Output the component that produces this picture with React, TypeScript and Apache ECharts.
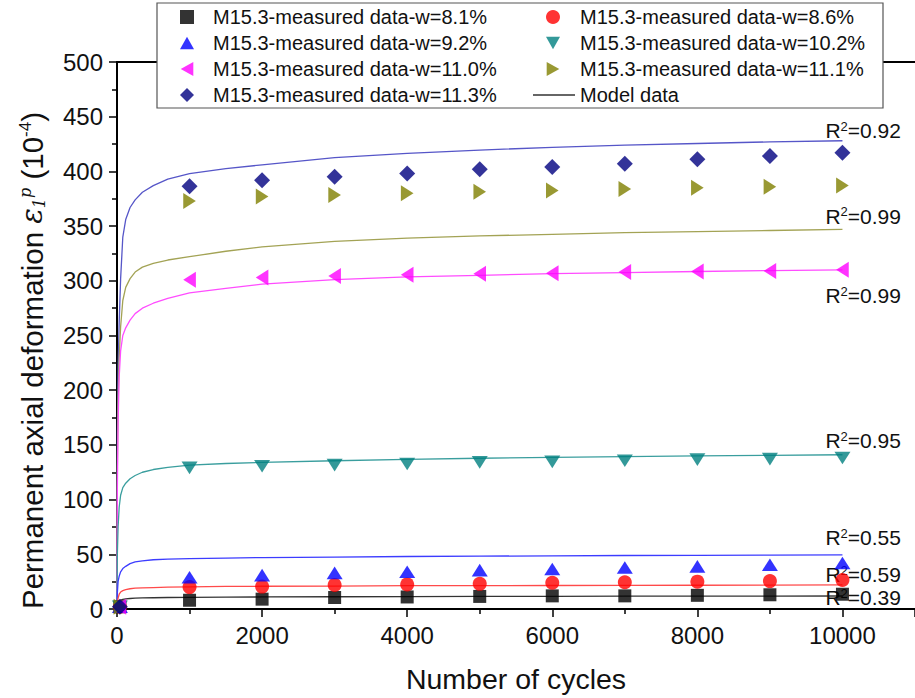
import React, { useEffect, useRef } from "react";
import * as echarts from "echarts";

// Measured data (Number of cycles)
const measuredN = [40, 1000, 2000, 3000, 4000, 5000, 6000, 7000, 8000, 9000, 10000];
const w81 = [2, 8, 9, 10.5, 11, 11.5, 12, 12, 12.5, 13, 13.5];
const w86 = [2, 20, 20.5, 22, 22.5, 23, 24, 24.5, 25, 25.5, 26.5];
const w92 = [2, 29, 31, 33, 34, 35.5, 36.5, 38, 39, 40.5, 42];
const w102 = [2, 129, 130.5, 131.5, 132.5, 134, 134.5, 135.5, 136.5, 137, 138];
const w110 = [2, 301, 303, 304.5, 305.5, 306.5, 307, 308, 308.5, 309, 310];
const w111 = [2, 373, 377, 378.5, 380, 381.5, 382.5, 384, 385, 386, 387];
const w113 = [2, 386.5, 392, 395, 398, 402, 404, 407, 411, 414, 417];

// Model (fitted) curves
const modelN = [0, 5, 15, 30, 50, 80, 120, 180, 250, 350, 500, 700, 1000, 1500, 2000, 3000, 4000, 5000, 6000, 7000, 8000, 9000, 10000];
const m113 = [0, 160, 220, 262, 302, 340, 356, 367, 374, 381, 387, 393, 398, 402.5, 406, 412.5, 416.5, 419.5, 422, 424, 425.5, 427, 428];
const m111 = [0, 130, 190, 230, 258, 282, 294, 302, 308, 312.5, 316, 319, 322, 327, 331, 336, 339, 341, 342.5, 344, 345, 346, 347];
const m110 = [0, 110, 170, 212, 236, 250, 257, 264, 270, 275, 279.5, 284, 289, 293, 297, 301, 303.5, 305, 306.5, 307.5, 308.5, 309.3, 310];
const m102 = [0, 50, 75, 93, 104, 111, 115, 119, 122, 125, 127.5, 129.5, 131.5, 133, 134, 135.5, 136.8, 137.8, 138.6, 139.3, 139.9, 140.5, 141];
const m92 = [0, 15, 25, 30, 34, 37, 39, 41.5, 43, 44, 45, 45.5, 46, 46.5, 47, 47.5, 48, 48.3, 48.6, 48.9, 49.1, 49.3, 49.5];
const m86 = [0, 6, 10, 13.5, 15.5, 16.8, 17.8, 18.5, 19, 19.3, 19.6, 20, 20.3, 20.6, 20.8, 21, 21.3, 21.4, 21.5, 21.6, 21.7, 21.8, 22];
const m81 = [0, 3, 5, 7, 8.2, 8.8, 9.2, 9.6, 9.9, 10.1, 10.3, 10.5, 10.7, 10.9, 11, 11.2, 11.4, 11.5, 11.6, 11.7, 11.8, 11.85, 11.9];

const r2Labels = ["0.92", "0.99", "0.99", "0.95", "0.55", "0.59", "0.39"];

const FONT = "Liberation Sans, Arial, sans-serif";

const TRI_UP = "path://M5,0 L10,9 L0,9 Z";
const TRI_DOWN = "path://M0,0 L10,0 L5,9 Z";
const TRI_LEFT = "path://M9,0 L9,10 L0,5 Z";
const TRI_RIGHT = "path://M0,0 L9,5 L0,10 Z";

export default function App() {
  const ref = useRef<HTMLDivElement>(null);

  useEffect(() => {
    if (!ref.current) return;
    const chart = echarts.init(ref.current, undefined, { renderer: "svg" });

    const pair = (xs: number[], ys: number[]) => xs.map((x, i) => [x, ys[i]]);

    const scatter = (name: string, ys: number[], color: string, symbol: string, size: number | number[]) => ({
      name,
      type: "scatter",
      data: pair(measuredN, ys),
      symbol,
      symbolSize: size,
      symbolKeepAspect: true,
      itemStyle: { color },
      z: 3,
    });

    const r2Rich = {
      r: { fontSize: 21, fontFamily: FONT, color: "#111", lineHeight: 22 },
      s: { fontSize: 13, fontFamily: FONT, color: "#111", verticalAlign: "top", lineHeight: 22 },
    };

    const model = (name: string, ys: number[], color: string, r2: string, dy: number) => ({
      name,
      type: "line",
      data: pair(modelN, ys),
      symbol: "none",
      smooth: false,
      lineStyle: { color, width: 1.3 },
      itemStyle: { color },
      z: 2,
      endLabel: {
        show: true,
        formatter: () => `{r|R}{s|2}{r|=${r2}}`,
        rich: r2Rich,
        distance: 0,
        offset: [-17, dy],
        align: "left",
      },
    });

    const legendText = { fontSize: 20, fontFamily: FONT, color: "#111", lineHeight: 20 };

    chart.setOption({
      animation: false,
      backgroundColor: "#fff",
      grid: { left: 117, right: 0, top: 62, bottom: 89, containLabel: false },
      legend: [
        {
          orient: "vertical",
          left: 180,
          top: 7,
          padding: 0,
          itemWidth: 14,
          itemHeight: 14,
          itemGap: 6,
          textStyle: { ...legendText, padding: [0, 0, 0, 14] },
          data: [
            { name: "M15.3-measured data-w=8.1%", icon: "rect" },
            { name: "M15.3-measured data-w=9.2%", icon: TRI_UP },
            { name: "M15.3-measured data-w=11.0%", icon: TRI_LEFT },
            { name: "M15.3-measured data-w=11.3%", icon: "diamond" },
          ],
        },
        {
          orient: "vertical",
          left: 546,
          top: 7,
          padding: 0,
          itemWidth: 14,
          itemHeight: 14,
          itemGap: 6,
          textStyle: { ...legendText, padding: [0, 0, 0, 15] },
          data: [
            { name: "M15.3-measured data-w=8.6%", icon: "circle" },
            { name: "M15.3-measured data-w=10.2%", icon: TRI_DOWN },
            { name: "M15.3-measured data-w=11.1%", icon: TRI_RIGHT },
          ],
        },
        {
          orient: "vertical",
          left: 533,
          top: 85,
          padding: 0,
          itemWidth: 42,
          itemHeight: 1.5,
          textStyle: legendText,
          data: [{ name: "Model data", icon: "rect" }],
        },
      ],
      graphic: [
        {
          type: "rect",
          z: 3,
          shape: { x: 157, y: 3, width: 726, height: 105 },
          style: { fill: "#fff", stroke: "#555", lineWidth: 1.2 },
        },
      ],
      xAxis: [
        {
          type: "value",
          min: 0,
          max: 11000,
          interval: 2000,
          name: "Number of cycles",
          nameLocation: "middle",
          nameGap: 55,
          nameTextStyle: { fontSize: 28.5, fontFamily: FONT, color: "#111" },
          axisLine: { show: true, onZero: false, lineStyle: { color: "#000", width: 2 } },
          axisTick: { show: true, length: 8, lineStyle: { color: "#000", width: 1.5 } },
          minorTick: { show: true, splitNumber: 2, length: 5, lineStyle: { color: "#000", width: 1.5 } },
          axisLabel: {
            fontSize: 24,
            fontFamily: FONT,
            color: "#111",
            margin: 14,
            showMaxLabel: false,
            formatter: (v: number) => String(v),
          },
          splitLine: { show: false },
        },
        {
          type: "value",
          position: "top",
          min: 0,
          max: 11000,
          axisLine: { show: true, onZero: false, lineStyle: { color: "#000", width: 2 } },
          axisTick: { show: false },
          axisLabel: { show: false },
          splitLine: { show: false },
        },
      ],
      yAxis: {
        type: "value",
        min: 0,
        max: 500,
        interval: 50,
        name: "Permanent axial deformation {e|ε}{sub|1}{sup|p} (10{sup2|-4})",
        nameLocation: "middle",
        nameRotate: 90,
        nameGap: 70,
        nameTextStyle: {
          fontSize: 29.5,
          fontFamily: FONT,
          color: "#111",
          padding: [0, 50, 0, 0],
          rich: {
            e: { fontSize: 29, fontFamily: "DejaVu Serif, serif", fontStyle: "italic", color: "#111" },
            sub: { fontSize: 16, fontFamily: "DejaVu Serif, serif", fontStyle: "italic", color: "#111", verticalAlign: "bottom" },
            sup: { fontSize: 16, fontFamily: "DejaVu Serif, serif", fontStyle: "italic", color: "#111", verticalAlign: "top" },
            sup2: { fontSize: 17, fontFamily: FONT, color: "#111", verticalAlign: "top" },
          },
        },
        axisLine: { show: true, onZero: false, lineStyle: { color: "#000", width: 2 } },
        axisTick: { show: true, length: 8, lineStyle: { color: "#000", width: 1.5 } },
        minorTick: { show: true, splitNumber: 2, length: 5, lineStyle: { color: "#000", width: 1.5 } },
        axisLabel: { fontSize: 24, fontFamily: FONT, color: "#111", margin: 14 },
        splitLine: { show: false },
      },
      series: [
        model("fit-11.3", m113, "#5656c8", r2Labels[0], -10),
        model("fit-11.1", m111, "#a3a355", r2Labels[1], -13),
        model("fit-11.0", m110, "#ff4cff", r2Labels[2], 26),
        model("fit-10.2", m102, "#3a9e9e", r2Labels[3], -14),
        model("fit-9.2", m92, "#3c3cff", r2Labels[4], -17),
        model("fit-8.6", m86, "#ff4a4a", r2Labels[5], -10),
        model("Model data", m81, "#333333", r2Labels[6], 2),
        scatter("M15.3-measured data-w=8.1%", w81, "#000000", "rect", 13),
        scatter("M15.3-measured data-w=8.6%", w86, "#ff0000", "circle", 14),
        scatter("M15.3-measured data-w=9.2%", w92, "#0000ff", TRI_UP, [16, 14]),
        scatter("M15.3-measured data-w=10.2%", w102, "#008080", TRI_DOWN, [16, 14]),
        scatter("M15.3-measured data-w=11.0%", w110, "#ff00ff", TRI_LEFT, [14, 16]),
        scatter("M15.3-measured data-w=11.1%", w111, "#808000", TRI_RIGHT, [14, 16]),
        scatter("M15.3-measured data-w=11.3%", w113, "#000080", "diamond", [16, 16]),
      ],
    });

    return () => chart.dispose();
  }, []);

  return (
    <div
      ref={ref}
      style={{ position: "fixed", left: 0, top: 0, width: 915, height: 698, background: "#fff" }}
    />
  );
}
